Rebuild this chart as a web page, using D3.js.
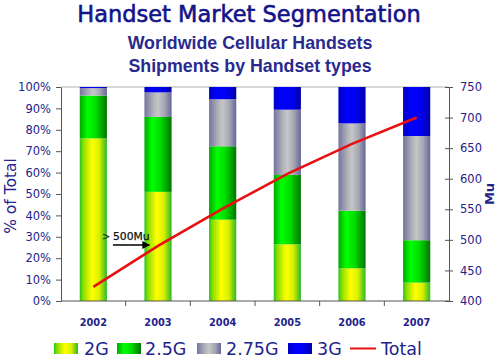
<!DOCTYPE html>
<html>
<head>
<meta charset="utf-8">
<script src="https://cdn.jsdelivr.net/npm/d3@7/dist/d3.min.js"></script>
<style>
  html, body { margin: 0; padding: 0; background: #fff; }
  svg { display: block; }
</style>
</head>
<body>
<svg id="chart" width="500" height="360"></svg>
<script>
// ---- data ----
const years = ["2002", "2003", "2004", "2005", "2006", "2007"];
const seriesNames = ["2G", "2.5G", "2.75G", "3G"];
const share2G   = [76, 51, 38, 26.5, 15.3, 8.6];
const share25G  = [20, 35, 34.3, 32.4, 26.9, 19.8];
const share275G = [3.5, 11.5, 22, 30.5, 40.8, 48.7];
const share3G   = [0.5, 2.5, 5.7, 10.6, 17, 22.9];
const totalMu   = [423, 490, 551, 608, 657, 700];
const leftTicks = [0, 10, 20, 30, 40, 50, 60, 70, 80, 90, 100];
const rightTicks = [400, 450, 500, 550, 600, 650, 700, 750];

const svg = d3.select("#chart");
const navy = "#23238a";
const pLeft = 61, pRight = 449, pTop = 87, pBottom = 301;

const x = d3.scaleBand().domain(years).range([pLeft, pRight]).paddingInner(0.58).paddingOuter(0.29);
const yL = d3.scaleLinear().domain([0, 100]).range([pBottom, pTop]);
const yR = d3.scaleLinear().domain([400, 750]).range([pBottom, pTop]);
const step = x.step();

// gradients
const defs = svg.append("defs");
const grads = {
  "2G": [[0, "#22c422"], [0.12, "#88dd00"], [0.45, "#ffff00"], [0.72, "#d8f000"], [1, "#2ab82a"]],
  "2.5G": [[0, "#00a800"], [0.28, "#00ff00"], [0.6, "#00dc00"], [1, "#007400"]],
  "2.75G": [[0, "#74749e"], [0.35, "#b4b4bc"], [0.5, "#c6c6c6"], [0.75, "#a4a4b4"], [1, "#66669a"]],
  "3G": [[0, "#0000c4"], [0.3, "#0000ff"], [0.65, "#0000f0"], [1, "#0000a8"]]
};
seriesNames.forEach((s, i) => {
  const g = defs.append("linearGradient").attr("id", "g" + i)
    .attr("x1", 0).attr("x2", 1).attr("y1", 0).attr("y2", 0);
  grads[s].forEach(([o, c]) => g.append("stop").attr("offset", o).attr("stop-color", c));
});

// stacked data
const rows = years.map((y, i) => ({
  year: y, "2G": share2G[i], "2.5G": share25G[i], "2.75G": share275G[i], "3G": share3G[i]
}));
const stacked = d3.stack().keys(seriesNames)(rows);

// top border line
svg.append("line").attr("x1", pLeft).attr("x2", pRight).attr("y1", pTop).attr("y2", pTop)
  .attr("stroke", "#b0b0b0").attr("stroke-width", 1);

stacked.forEach((layer, i) => {
  svg.append("g").selectAll("rect").data(layer).join("rect")
    .attr("x", d => x(d.data.year))
    .attr("width", x.bandwidth())
    .attr("y", d => yL(d[1]))
    .attr("height", d => yL(d[0]) - yL(d[1]))
    .attr("fill", `url(#g${i})`);
});

// axes
const axisColor = "#555";
const gl = svg.append("g").attr("transform", `translate(${pLeft},0)`)
  .call(d3.axisLeft(yL).tickValues(leftTicks).tickFormat(d => d + "%").tickSizeInner(5).tickSizeOuter(0).tickPadding(5));
const gr = svg.append("g").attr("transform", `translate(${pRight},0)`)
  .call(d3.axisRight(yR).tickValues(rightTicks).tickSizeInner(4).tickSizeOuter(0).tickPadding(7));
gr.selectAll(".tick line").attr("x1", -4);
[gl, gr].forEach(g => {
  g.select(".domain").attr("stroke", axisColor);
  g.selectAll(".tick line").attr("stroke", axisColor);
  g.selectAll("text").attr("fill", navy).style("font-family", "'DejaVu Sans', sans-serif").style("font-size", "11.5px");
});

// bottom axis
svg.append("line").attr("x1", pLeft).attr("x2", pRight).attr("y1", pBottom).attr("y2", pBottom)
  .attr("stroke", axisColor);
const bounds = years.map(y => x(y) + x.bandwidth() / 2 + step / 2).slice(0, -1);
svg.append("g").selectAll("line").data(bounds).join("line")
  .attr("x1", d => d).attr("x2", d => d).attr("y1", pBottom).attr("y2", pBottom + 5)
  .attr("stroke", axisColor);
svg.append("g").selectAll("text").data(years).join("text")
  .attr("x", d => x(d) + x.bandwidth() / 2).attr("y", 326)
  .attr("text-anchor", "middle").attr("fill", navy)
  .style("font-family", "'DejaVu Sans', sans-serif").style("font-size", "9.8px").style("font-weight", "bold")
  .text(d => d);

// total line
const line = d3.line().x((d, i) => x(years[i]) + x.bandwidth() / 2).y(d => yR(d));
svg.append("path").datum(totalMu).attr("d", line)
  .attr("fill", "none").attr("stroke", "#e81010").attr("stroke-width", 2.6);

// annotation
const ax0 = x("2002") + x.bandwidth() + 6;
svg.append("text").attr("x", ax0 - 11).attr("y", 240).text(">")
  .style("font-family", "'DejaVu Sans', sans-serif").style("font-size", "10px").attr("fill", "#111");
svg.append("text").attr("x", ax0).attr("y", 240).text("500Mu")
  .style("font-family", "'DejaVu Sans', sans-serif").style("font-size", "10.8px").attr("fill", "#111")
  .attr("stroke", "#111").attr("stroke-width", 0.25);
defs.append("marker").attr("id", "arrow").attr("viewBox", "0 0 10 10").attr("refX", 9).attr("refY", 5)
  .attr("markerWidth", 6).attr("markerHeight", 6).attr("orient", "auto")
  .append("path").attr("d", "M0,0 L10,5 L0,10 z").attr("fill", "#000");
svg.append("line").attr("x1", ax0).attr("x2", x("2003") + 5).attr("y1", 245).attr("y2", 245)
  .attr("stroke", "#000").attr("stroke-width", 1.3).attr("marker-end", "url(#arrow)");

// axis titles
svg.append("text").attr("transform", "translate(16,196) rotate(-90)")
  .attr("text-anchor", "middle").attr("fill", navy)
  .style("font-family", "'DejaVu Sans', sans-serif").style("font-size", "15.5px").text("% of Total");
svg.append("text").attr("transform", "translate(494,194) rotate(-90)")
  .attr("text-anchor", "middle").attr("fill", navy)
  .style("font-family", "'DejaVu Sans', sans-serif").style("font-size", "13px").style("font-weight", "bold").text("Mu");

// titles
svg.append("text").attr("x", 249).attr("y", 22).attr("text-anchor", "middle").attr("fill", "#14148a")
  .attr("stroke", "#14148a").attr("stroke-width", 0.6)
  .style("font-family", "'DejaVu Sans', sans-serif").style("font-size", "22.5px").text("Handset Market Segmentation");
svg.append("text").attr("x", 250).attr("y", 49).attr("text-anchor", "middle").attr("fill", "#2a2a8e")
  .style("font-family", "'Liberation Sans', Arial, sans-serif").style("font-size", "17.8px").style("font-weight", "bold")
  .text("Worldwide Cellular Handsets");
svg.append("text").attr("x", 250).attr("y", 72).attr("text-anchor", "middle").attr("fill", "#2a2a8e")
  .style("font-family", "'Liberation Sans', Arial, sans-serif").style("font-size", "17.8px").style("font-weight", "bold")
  .text("Shipments by Handset types");

// legend
const legendItems = [
  { name: "2G", sx: 54, tx: 84 },
  { name: "2.5G", sx: 117, tx: 145 },
  { name: "2.75G", sx: 197, tx: 226 },
  { name: "3G", sx: 288, tx: 317 },
  { name: "Total", sx: 350, tx: 381 }
];
const lg = svg.append("g");
legendItems.forEach((it, i) => {
  if (i < 4) {
    lg.append("rect").attr("x", it.sx).attr("y", 343).attr("width", 24).attr("height", 11)
      .attr("fill", `url(#g${i})`);
  } else {
    lg.append("line").attr("x1", it.sx).attr("x2", it.sx + 26).attr("y1", 348.5).attr("y2", 348.5)
      .attr("stroke", "#e81010").attr("stroke-width", 2);
  }
  lg.append("text").attr("x", it.tx).attr("y", 355).attr("fill", navy)
    .style("font-family", "'DejaVu Sans', sans-serif").style("font-size", "17.5px").text(it.name);
});
</script>
</body>
</html>
